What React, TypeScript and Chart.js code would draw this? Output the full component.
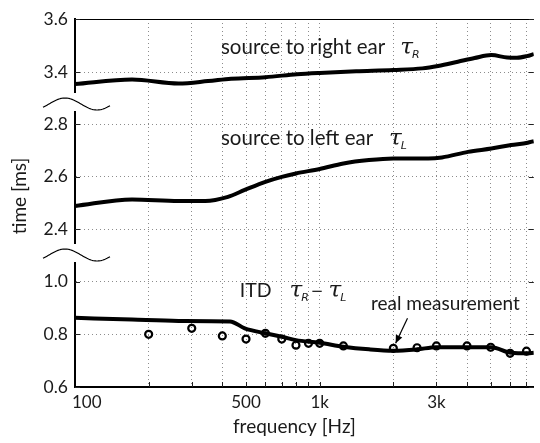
import React, { useEffect, useRef } from 'react';
import { Chart, registerables } from 'chart.js';

Chart.register(...registerables);

// ---------- data ----------
const rightEarFreq = [100, 171, 265, 350, 434, 600, 808, 1000, 1410, 2000, 2626, 3047, 3671, 4296, 5032, 5838, 6401, 7025, 7500];
const rightEarDelay = [3.355, 3.372, 3.357, 3.366, 3.375, 3.381, 3.392, 3.397, 3.403, 3.408, 3.414, 3.423, 3.439, 3.453, 3.464, 3.455, 3.454, 3.46, 3.468];

const leftEarFreq = [100, 171, 265, 341, 422, 494, 600, 700, 800, 1000, 1250, 1590, 2000, 2780, 3160, 4040, 5030, 6060, 7080, 7500];
const leftEarDelay = [2.488, 2.513, 2.507, 2.507, 2.523, 2.549, 2.58, 2.599, 2.612, 2.629, 2.65, 2.663, 2.669, 2.669, 2.673, 2.694, 2.707, 2.72, 2.729, 2.735];

const itdFreq = [100, 171, 265, 430, 494, 600, 700, 800, 1000, 1250, 1590, 2000, 2500, 3000, 4040, 5030, 6060, 7080, 7500];
const itdValue = [0.863, 0.856, 0.851, 0.849, 0.823, 0.804, 0.791, 0.778, 0.768, 0.753, 0.743, 0.738, 0.743, 0.751, 0.751, 0.751, 0.73, 0.728, 0.73];

const measFreq = [200, 300, 400, 500, 600, 700, 800, 900, 1000, 1250, 2000, 2500, 3000, 4000, 5000, 6000, 7000];
const measValue = [0.8, 0.823, 0.794, 0.782, 0.804, 0.782, 0.759, 0.766, 0.766, 0.756, 0.747, 0.749, 0.756, 0.756, 0.751, 0.728, 0.736];

const xTickValues = [100, 200, 300, 400, 500, 600, 700, 800, 900, 1000, 2000, 3000, 4000, 5000, 6000, 7000];
const xTickLabels: Record<number, string> = { 100: '100', 500: '500', 1000: '1k', 3000: '3k' };
const topTicks = [3.4, 3.6];
const midTicks = [2.4, 2.6, 2.8];
const botTicks = [0.6, 0.8, 1.0];

// annotation anchors in data units
const rightLabel = { text: 'source to right ear', sub: 'R', f: 395, v: 3.468, axis: 'yTop', gap: 15 };
const leftLabel = { text: 'source to left ear', sub: 'L', f: 395, v: 2.72, axis: 'yMid', gap: 16 };
const itdLabel = { text: 'ITD', f: 471, v: 0.942, axis: 'yBot', gap: 18 };
const measLabel = { text: 'real measurement', f: 1620, v: 0.892 };
const arrowFrom = { f: 2285, v: 0.861 };
const arrowTo = { f: 2044, v: 0.766 };

const FONT = 'Lato';
const TEXT = '#1a1a1a';
const GRID = '#8c8c8c';
const TAU_FONT = 'italic 23px "DejaVu Serif"';
const SUB_FONT = 'italic 11px "DejaVu Sans"';

const pts = (fs: number[], vs: number[]) => fs.map((f, i) => ({ x: f, y: vs[i] }));

const decor = {
  id: 'decor',
  afterDraw(chart: any) {
    const { ctx, chartArea: ca, scales } = chart;
    const xs = scales.x;
    const line = (x1: number, y1: number, x2: number, y2: number) => {
      ctx.beginPath();
      ctx.moveTo(x1, y1);
      ctx.lineTo(x2, y2);
      ctx.stroke();
    };
    ctx.save();
    // top frame line
    ctx.strokeStyle = '#000';
    ctx.lineWidth = 1;
    line(ca.left, ca.top + 0.5, ca.right, ca.top + 0.5);
    // inward ticks
    ctx.strokeStyle = '#222';
    for (const v of xTickValues) {
      if (v === 100) continue;
      const px = Math.round(xs.getPixelForValue(v)) + 0.5;
      line(px, ca.bottom, px, ca.bottom - 5);
    }
    const panels: [string, number[]][] = [['yTop', topTicks], ['yMid', midTicks], ['yBot', botTicks]];
    for (const [id, ticks] of panels) {
      const s = scales[id];
      for (const v of ticks) {
        const py = Math.round(s.getPixelForValue(v)) + 0.5;
        line(ca.left, py, ca.left + 5, py);
        line(ca.right, py, ca.right - 5, py);
      }
    }
    // axis break waves
    ctx.strokeStyle = '#000';
    ctx.lineWidth = 1.2;
    for (const gid of ['gapA', 'gapB']) {
      const g = scales[gid];
      const cy = g.getPixelForValue(0.4);
      ctx.beginPath();
      for (let dx = -32; dx <= 35; dx += 1) {
        const yy = cy - 6 * Math.sin((2 * Math.PI * (dx + 26)) / 64);
        if (dx === -32) ctx.moveTo(ca.left + dx, yy);
        else ctx.lineTo(ca.left + dx, yy);
      }
      ctx.stroke();
    }
    // x tick labels
    ctx.fillStyle = TEXT;
    ctx.font = `17px ${FONT}`;
    ctx.textBaseline = 'alphabetic';
    for (const v of xTickValues) {
      const lab = xTickLabels[v];
      if (!lab) continue;
      const px = xs.getPixelForValue(v);
      if (v === 100) {
        ctx.textAlign = 'left';
        ctx.fillText(lab, px - 3, ca.bottom + 21);
      } else {
        ctx.textAlign = 'center';
        ctx.fillText(lab, px, ca.bottom + 21);
      }
    }
    // axis titles
    ctx.font = `19px ${FONT}`;
    ctx.textAlign = 'center';
    ctx.fillText('frequency [Hz]', (ca.left + ca.right) / 2 - 10, ca.bottom + 46);
    ctx.save();
    ctx.translate(20, (ca.top + ca.bottom) / 2 - 7);
    ctx.rotate(-Math.PI / 2);
    ctx.textBaseline = 'middle';
    ctx.fillText('time [ms]', 0, 0);
    ctx.restore();

    // annotations
    const tau = (x: number, base: number, sub: string) => {
      ctx.textAlign = 'left';
      ctx.textBaseline = 'alphabetic';
      ctx.font = TAU_FONT;
      ctx.fillText('τ', x, base);
      const w = ctx.measureText('τ').width;
      ctx.font = SUB_FONT;
      ctx.fillText(sub, x + w - 1, base + 4);
      return x + w - 1 + ctx.measureText(sub).width;
    };
    ctx.textAlign = 'left';
    for (const lab of [rightLabel, leftLabel]) {
      const x0 = xs.getPixelForValue(lab.f);
      const y0 = scales[lab.axis].getPixelForValue(lab.v);
      ctx.font = `20.5px ${FONT}`;
      ctx.fillText(lab.text, x0, y0);
      const w = ctx.measureText(lab.text).width;
      tau(x0 + w + lab.gap, y0, lab.sub);
    }
    {
      const x0 = xs.getPixelForValue(itdLabel.f);
      const y0 = scales[itdLabel.axis].getPixelForValue(itdLabel.v);
      ctx.font = `19.5px ${FONT}`;
      ctx.textAlign = 'left';
      ctx.fillText(itdLabel.text, x0, y0);
      const w = ctx.measureText(itdLabel.text).width;
      let xe = tau(x0 + w + itdLabel.gap, y0, 'R');
      ctx.font = '15px "DejaVu Sans"';
      ctx.fillText('−', xe + 2, y0 - 1);
      xe = xe + 2 + ctx.measureText('−').width;
      tau(xe + 5, y0, 'L');
    }
    {
      const x0 = xs.getPixelForValue(measLabel.f);
      const y0 = scales.yBot.getPixelForValue(measLabel.v);
      ctx.font = `19px ${FONT}`;
      ctx.textAlign = 'left';
      ctx.fillText(measLabel.text, x0, y0);
      const ax1 = xs.getPixelForValue(arrowFrom.f);
      const ay1 = scales.yBot.getPixelForValue(arrowFrom.v);
      const ax2 = xs.getPixelForValue(arrowTo.f);
      const ay2 = scales.yBot.getPixelForValue(arrowTo.v);
      ctx.strokeStyle = '#000';
      ctx.lineWidth = 1.2;
      line(ax1, ay1, ax2, ay2);
      const ang = Math.atan2(ay2 - ay1, ax2 - ax1);
      const L = 8, W = 3.5;
      ctx.beginPath();
      ctx.moveTo(ax2, ay2);
      ctx.lineTo(ax2 - L * Math.cos(ang) + W * Math.sin(ang), ay2 - L * Math.sin(ang) - W * Math.cos(ang));
      ctx.lineTo(ax2 - L * Math.cos(ang) - W * Math.sin(ang), ay2 - L * Math.sin(ang) + W * Math.cos(ang));
      ctx.closePath();
      ctx.fillStyle = '#000';
      ctx.fill();
    }
    ctx.restore();
  },
};

function panelAxis(min: number, max: number, ticks: number[], weight: number, stackWeight: number) {
  return {
    type: 'linear',
    position: 'left',
    stack: 'panels',
    stackWeight,
    weight,
    min,
    max,
    afterBuildTicks: (s: any) => {
      s.ticks = ticks.map((v) => ({ value: v }));
    },
    afterFit: (s: any) => {
      s.width = 75;
    },
    ticks: {
      font: { family: FONT, size: 17.5 },
      color: TEXT,
      padding: 7,
      callback: (v: any) => Number(v).toFixed(1),
    },
    grid: { color: GRID, lineWidth: 1, drawTicks: false },
    border: { display: true, color: '#000', width: 2, dash: [1, 3] },
  };
}

function gapAxis(weight: number, stackWeight: number) {
  return {
    type: 'linear',
    position: 'left',
    stack: 'panels',
    stackWeight,
    weight,
    min: 0,
    max: 1,
    afterFit: (s: any) => {
      s.width = 75;
    },
    ticks: { display: false },
    grid: { display: false },
    border: { display: false },
  };
}

export default function App() {
  const ref = useRef<HTMLCanvasElement>(null);
  useEffect(() => {
    const canvas = ref.current;
    if (!canvas) return;
    Chart.defaults.font.family = FONT;
    const chart = new Chart(canvas, {
      type: 'line',
      data: {
        datasets: [
          {
            label: 'real measurement',
            data: pts(measFreq, measValue),
            yAxisID: 'yBot',
            showLine: false,
            pointRadius: 3.5,
            pointBorderWidth: 2.2,
            pointBorderColor: '#000',
            pointBackgroundColor: 'rgba(0,0,0,0)',
            borderColor: '#000',
            order: 0,
          },
          {
            label: 'source to right ear',
            data: pts(rightEarFreq, rightEarDelay),
            yAxisID: 'yTop',
            borderColor: '#000',
            borderWidth: 4,
            pointRadius: 0,
            cubicInterpolationMode: 'monotone',
            order: 1,
          },
          {
            label: 'source to left ear',
            data: pts(leftEarFreq, leftEarDelay),
            yAxisID: 'yMid',
            borderColor: '#000',
            borderWidth: 4,
            pointRadius: 0,
            cubicInterpolationMode: 'monotone',
            order: 1,
          },
          {
            label: 'ITD',
            data: pts(itdFreq, itdValue),
            yAxisID: 'yBot',
            borderColor: '#000',
            borderWidth: 4,
            pointRadius: 0,
            cubicInterpolationMode: 'monotone',
            order: 1,
          },
        ],
      },
      options: {
        animation: false,
        responsive: false,
        devicePixelRatio: 1,
        layout: { padding: { top: 19, left: 0, right: 0, bottom: 0 } },
        plugins: { legend: { display: false }, tooltip: { enabled: false } },
        scales: {
          x: {
            type: 'logarithmic',
            position: 'bottom',
            min: 100,
            max: 7500,
            afterBuildTicks: (s: any) => {
              s.ticks = xTickValues.map((v) => ({ value: v }));
            },
            afterFit: (s: any) => {
              s.height = 56;
            },
            ticks: { display: false },
            grid: {
              color: (c: any) => (c.tick && c.tick.value === 100 ? 'rgba(0,0,0,0)' : GRID),
              lineWidth: 1,
              drawTicks: false,
            },
            border: { display: true, color: '#000', width: 2, dash: [1, 3] },
          },
          yTop: panelAxis(3.325, 3.6, topTicks, 5, 73),
          gapA: gapAxis(4, 20),
          yMid: panelAxis(2.347, 2.846, midTicks, 3, 131),
          gapB: gapAxis(2, 20),
          yBot: panelAxis(0.6, 1.071, botTicks, 1, 124),
        } as any,
      },
      plugins: [decor],
    } as any);
    return () => chart.destroy();
  }, []);
  return (
    <div style={{ position: 'absolute', left: 0, top: 0, width: 540, height: 443, background: '#fff' }}>
      <canvas ref={ref} width={540} height={443} style={{ display: 'block', width: 540, height: 443 }} />
    </div>
  );
}
